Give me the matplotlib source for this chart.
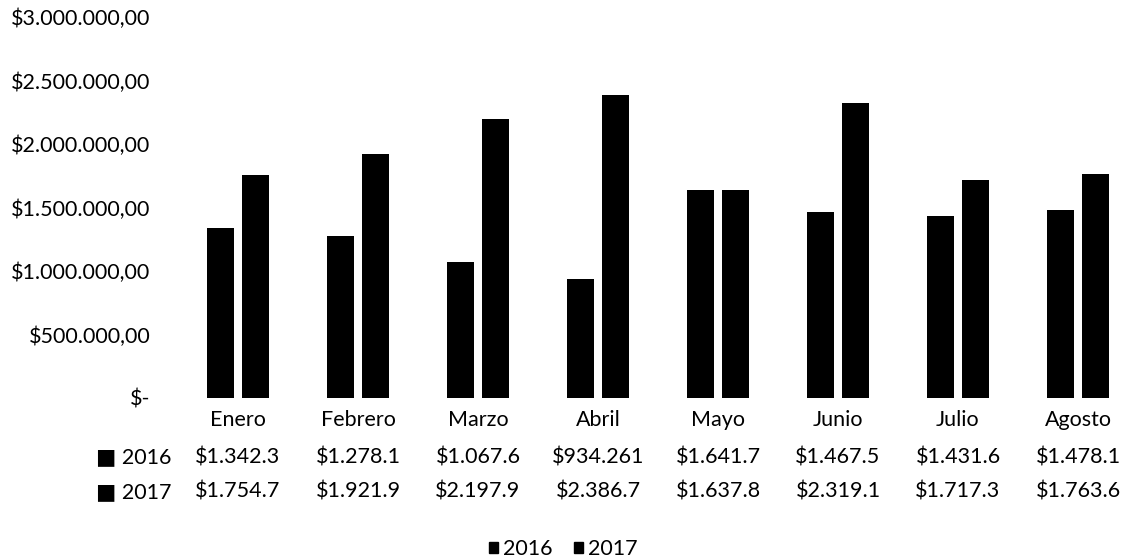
import matplotlib.pyplot as plt
import numpy as np
from matplotlib.patches import Patch
from matplotlib.transforms import blended_transform_factory

plt.rcParams['font.family'] = ['Lato', 'DejaVu Sans']

meses = ['Enero', 'Febrero', 'Marzo', 'Abril', 'Mayo', 'Junio', 'Julio', 'Agosto']
v2016 = [1342300, 1278100, 1067600, 934261, 1641700, 1467500, 1431600, 1478100]
v2017 = [1754700, 1921900, 2197900, 2386700, 1637800, 2319100, 1717300, 1763600]
yticks = [0, 500000, 1000000, 1500000, 2000000, 2500000, 3000000]


def ylab(v):
    if v == 0:
        return '$-'
    s = f'{v:,.2f}'.replace(',', 'X').replace('.', ',').replace('X', '.')
    return '$' + s


def celda(v):
    # the table cells in the original are clipped to 8 chars
    s = f'${v:,.0f}'.replace(',', '.')
    return s[:8]


fig = plt.figure(figsize=(11.26, 5.58), dpi=100)
ax = fig.add_axes([178 / 1126, 160 / 558, 960 / 1126, 381 / 558])

x = np.arange(len(meses))
w = 0.225
off = 0.146
ax.bar(x - off, v2016, w, color='black')
ax.bar(x + off, v2017, w, color='black')

fs = 15.5
ax.set_xlim(-0.5, len(meses) - 0.5)
ax.set_ylim(0, 3000000)
ax.set_yticks(yticks)
ax.set_yticklabels([ylab(v) for v in yticks], fontsize=fs)
ax.tick_params(axis='y', length=0, pad=20)
ax.set_xticks([])
for s in ax.spines.values():
    s.set_visible(False)

tr = blended_transform_factory(ax.transData, fig.transFigure)
for i, m in enumerate(meses):
    ax.text(i, 1 - 418 / 558, m, transform=tr, ha='center', va='center_baseline', fontsize=fs)
    ax.text(i, 1 - 455 / 558, celda(v2016[i]), transform=tr, ha='center', va='center_baseline', fontsize=fs)
    ax.text(i, 1 - 490 / 558, celda(v2017[i]), transform=tr, ha='center', va='center_baseline', fontsize=fs)

fig.text(171 / 1126, 1 - 455 / 558, '■ 2016', ha='right', va='center_baseline', fontsize=fs)
fig.text(171 / 1126, 1 - 490 / 558, '■ 2017', ha='right', va='center_baseline', fontsize=fs)

fig.legend(handles=[Patch(color='black', label='2016'), Patch(color='black', label='2017')],
           loc='center', bbox_to_anchor=(0.5, 1 - 549 / 558), ncol=2, frameon=False,
           fontsize=fs, handlelength=0.45, handleheight=0.45, handletextpad=0.2,
           columnspacing=1.0)

fig.savefig('out.png', dpi=100)
